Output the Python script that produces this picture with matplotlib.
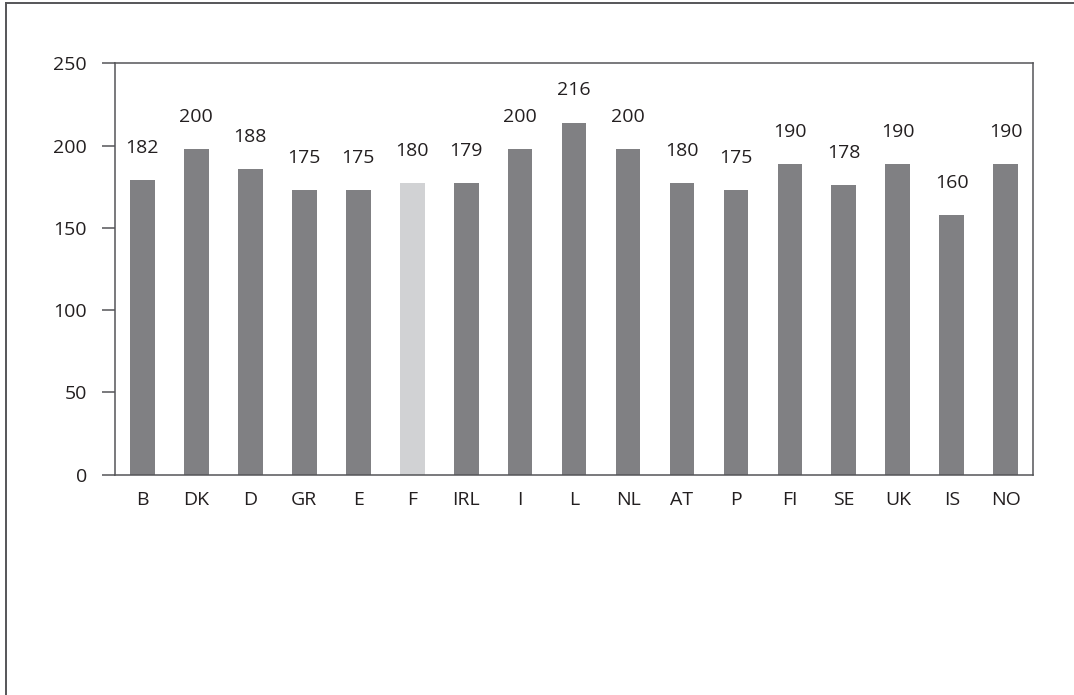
import matplotlib.pyplot as plt
from matplotlib.lines import Line2D

plt.rcParams['font.family'] = ['Open Sans', 'DejaVu Sans']

# countries and values
countries = ['B', 'DK', 'D', 'GR', 'E', 'F', 'IRL', 'I', 'L', 'NL', 'AT', 'P', 'FI', 'SE', 'UK', 'IS', 'NO']
heights = [179, 198, 186, 173, 173, 177, 177, 198, 214, 198, 177, 173, 189, 176, 189, 158, 189]
labels = ['182', '200', '188', '175', '175', '180', '179', '200', '216', '200', '180', '175', '190', '178', '190', '160', '190']
highlight = 'F'

txt = '#231f20'
edge = '#555558'

fig = plt.figure(figsize=(10.74, 6.95), dpi=100)
ax = fig.add_axes([0.1074, 0.317, 0.8542, 0.5919])

colors = ['#d1d2d4' if c == highlight else '#808083' for c in countries]
x = range(len(countries))
ax.bar(x, heights, width=0.46, color=colors, zorder=2)

for i in x:
    ax.annotate(labels[i], (i, heights[i]), xytext=(0, 19.5), textcoords='offset points',
                ha='center', va='baseline', fontsize=14, color=txt)

ax.set_xlim(-0.5, len(countries) - 0.5)
ax.set_ylim(0, 250)
ax.set_yticks([0, 50, 100, 150, 200, 250])
ax.set_xticks(list(x))
ax.set_xticklabels(countries)
ax.tick_params(axis='y', direction='out', length=9.5, width=1.1, color=edge, pad=11, labelsize=14, labelcolor=txt)
ax.tick_params(axis='x', length=0, pad=12, labelsize=14, labelcolor=txt)
for s in ax.spines.values():
    s.set_color(edge)
    s.set_linewidth(1.1)

# outer frame (only left and top are visible)
fig.add_artist(Line2D([6 / 1074, 6 / 1074], [0, 1 - 3 / 695], transform=fig.transFigure, color=edge, lw=1.4))
fig.add_artist(Line2D([6 / 1074, 1], [1 - 3 / 695, 1 - 3 / 695], transform=fig.transFigure, color=edge, lw=1.4))

plt.savefig('out.png', dpi=100)
